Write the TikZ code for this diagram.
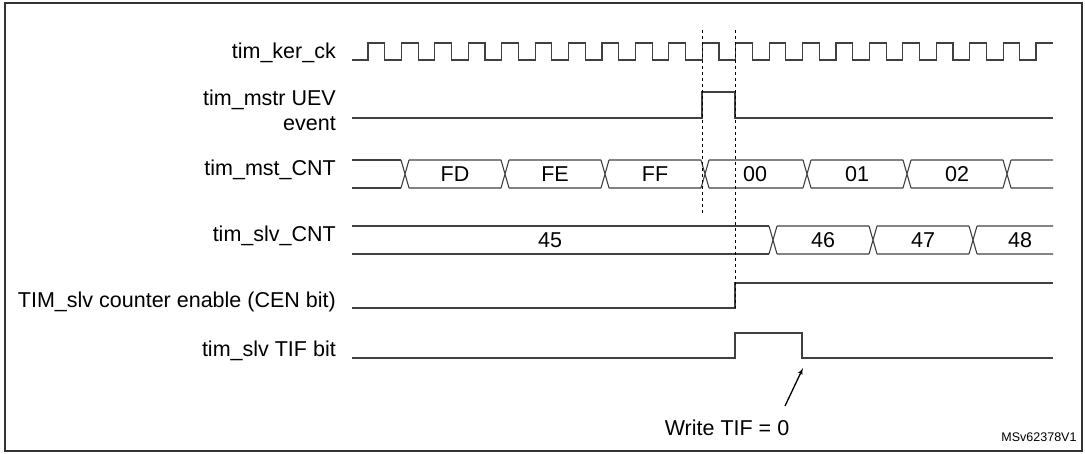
\documentclass[tikz,border=0pt]{standalone}
\usepackage{fontspec}
\setmainfont{Liberation Sans}
\usetikzlibrary{arrows}
\tikzstyle{sig} = [draw, line width=1.1pt, black!75]
\tikzstyle{lbl} = [anchor=east, font=\fontsize{21.5}{25}\selectfont, inner sep=0pt, align=right]
\tikzstyle{val} = [font=\fontsize{21.5}{25}\selectfont, inner sep=0pt]
\tikzstyle{cut} = [draw, dashed, line width=0.8pt]
\tikzstyle{line} = [draw, line width=1pt, -latex', >=latex', shorten >=0pt]
\begin{document}
\begin{tikzpicture}[x=1pt, y=-1pt]
        \useasboundingbox (0,0) rectangle (1085,453);
        \draw [line width=1.2pt, black!80] (5,3) rectangle (1082,451);

        % signal names
        \node [lbl] (ck) at (336,53) {tim\_ker\_ck};
        \node [lbl] (uev) at (336,110) {tim\_mstr UEV\\event};
        \node [lbl] (mst) at (336,170) {tim\_mst\_CNT};
        \node [lbl] (slv) at (336,236) {tim\_slv\_CNT};
        \node [lbl] (cen) at (336,302) {TIM\_slv counter enable (CEN bit)};
        \node [lbl] (tif) at (336,351) {tim\_slv TIF bit};

        % clock
        \path [sig] (352,60) foreach \k in {0,...,19} {
            -- ({368+33.43*\k},60) -- ({368+33.43*\k},43)
            -- ({384.7+33.43*\k},43) -- ({384.7+33.43*\k},60) }
            -- (1036,60) -- (1036,43) -- (1053,43);

        % update event
        \path [sig] (352,118) -- (702,118) -- (702,92) -- (735,92) -- (735,118) -- (1053,118);

        % master counter
        \path [sig] (352,160) -- (401,160) (352,188) -- (401,188);
        \foreach \a/\b in {405/505,505/605,605/705,705/807,807/907,907/1007} {
            \path [sig] (\a-4,160) -- (\a+4,188) (\a-4,188) -- (\a+4,160)
                (\a+4,160) -- (\b-4,160) (\a+4,188) -- (\b-4,188);
        }
        \path [sig] (1003,160) -- (1011,188) (1003,188) -- (1011,160)
            (1011,160) -- (1053,160) (1011,188) -- (1053,188);
        \foreach \x/\v in {455/FD,555/FE,655/FF,755/00,857/01,957/02}
            \node [val] at (\x,174) {\v};

        % slave counter
        \path [sig] (352,226) -- (769,226) (352,254) -- (769,254);
        \foreach \a/\b in {773/873,873/973} {
            \path [sig] (\a-4,226) -- (\a+4,254) (\a-4,254) -- (\a+4,226)
                (\a+4,226) -- (\b-4,226) (\a+4,254) -- (\b-4,254);
        }
        \path [sig] (969,226) -- (977,254) (969,254) -- (977,226)
            (977,226) -- (1053,226) (977,254) -- (1053,254);
        \foreach \x/\v in {550/45,823/46,923/47,1020/48}
            \node [val] at (\x,240) {\v};

        % enable and flag
        \path [sig] (352,308) -- (735,308) -- (735,283) -- (1053,283);
        \path [sig] (352,358) -- (735,358) -- (735,333) -- (802,333) -- (802,358) -- (1053,358);

        % markers
        \path [cut] (702,30) -- (702,213);
        \path [cut] (735,30) -- (735,308);

        \node [val] (wr) at (727,428) {Write TIF = 0};
        \coordinate (wrtop) at (785,406);
        \coordinate (clr) at (803,368);
        \path [line, line width=1.3pt] (wrtop) -- (clr);
        \node [font=\fontsize{12.5}{15}\selectfont, inner sep=0pt] (ref) at (1039,437) {MSv62378V1};
\end{tikzpicture}
\end{document}
